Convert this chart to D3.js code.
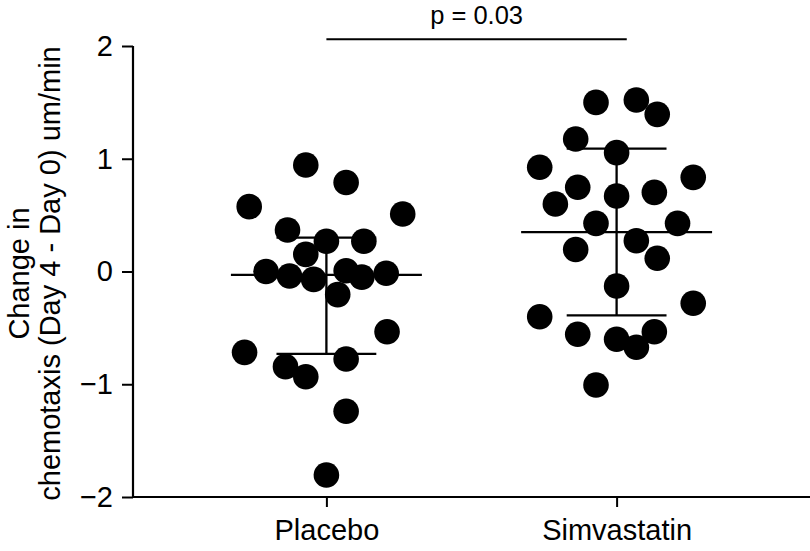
<!DOCTYPE html>
<html>
<head>
<meta charset="utf-8">
<script src="https://cdn.jsdelivr.net/npm/d3@7"></script>
<style>
  html, body { margin: 0; padding: 0; background: #fff; }
  svg { display: block; font-family: "Liberation Sans", Arial, Helvetica, sans-serif; }
</style>
</head>
<body>
<svg id="chart" width="810" height="551"></svg>
<script>
// ---- data ----
const categories = ["Placebo", "Simvastatin"];
const placeboValues = [0.945, 0.79, 0.575, 0.51, 0.368, 0.268, 0.268, 0.152, 0.0, -0.04, -0.07, 0.007,
  -0.05, -0.016, -0.205, -0.717, -0.844, -0.933, -0.776, -0.534, -1.24, -1.805];
const placeboJitter = [-0.071, 0.068, -0.266, 0.263, -0.134, 0, 0.129, -0.071, -0.208, -0.127, -0.044, 0.068,
  0.122, 0.206, 0.039, -0.282, -0.141, -0.071, 0.068, 0.209, 0.068, 0];
const simvastatinValues = [1.50, 1.521, 1.394, 1.175, 1.054, 0.924, 0.835, 0.747, 0.670, 0.702, 0.599, 0.427,
  0.427, 0.273, 0.195, 0.117, -0.129, -0.282, -0.401, -0.557, -0.601, -0.672, -0.534, -1.007];
const simvastatinJitter = [-0.071, 0.068, 0.140, -0.141, 0, -0.265, 0.264, -0.134, 0, 0.130, -0.211, -0.071,
  0.210, 0.068, -0.141, 0.140, 0, 0.264, -0.265, -0.134, 0, 0.068, 0.130, -0.071];
const centerValues = [-0.03, 0.35];
const lowerValues = [-0.73, -0.39];
const upperValues = [0.30, 1.09];
const yTicks = [-2, -1, 0, 1, 2];
const pLabel = "p = 0.03";
const yTitleLines = ["Change in", "chemotaxis (Day 4 - Day 0) um/min"];

// ---- layout ----
const svg = d3.select("#chart");
const mLeft = 133, mRight = 810, mTop = 46, mBottom = 497;
const fontSize = 29;

const x = d3.scalePoint().domain(categories).range([mLeft, mRight]).padding(0.6664);
const step = x.step();
const y = d3.scaleLinear().domain([-2, 2]).range([mBottom, mTop]);

// axes
const yAxis = d3.axisLeft(y).tickValues(yTicks).tickSize(11).tickPadding(9).tickFormat(d3.format("d"));
const gy = svg.append("g").attr("transform", `translate(${mLeft},0)`).call(yAxis);
gy.select(".domain").attr("stroke-width", 2.2).attr("d", `M0,${mTop}V${mBottom}`);
gy.selectAll(".tick line").attr("stroke-width", 2);
gy.selectAll(".tick text").attr("font-size", fontSize).attr("fill", "#000")
  .attr("font-family", "Liberation Sans, Arial, sans-serif");

const xAxis = d3.axisBottom(x).tickSize(10).tickPadding(12);
const gx = svg.append("g").attr("transform", `translate(0,${mBottom})`).call(xAxis);
gx.select(".domain").attr("stroke-width", 2.2).attr("d", `M${mLeft},0H${mRight}`);
gx.selectAll(".tick line").attr("stroke-width", 2);
gx.selectAll(".tick text").attr("font-size", fontSize).attr("fill", "#000")
  .attr("font-family", "Liberation Sans, Arial, sans-serif");

// y title
const yTitle = svg.append("text")
  .attr("transform", `translate(0,${(mTop + mBottom) / 2 + 2}) rotate(-90)`)
  .attr("text-anchor", "middle")
  .attr("font-size", fontSize)
  .attr("fill", "#000");
yTitle.append("tspan").attr("x", 0).attr("y", 29).text(yTitleLines[0]);
yTitle.append("tspan").attr("x", 0).attr("y", 60).text(yTitleLines[1]);

// summary lines (mean / spread)
const meanHalf = 0.329 * step, capHalf = 0.172 * step;
const summary = categories.map((c, i) => ({ c, mid: centerValues[i], lo: lowerValues[i], hi: upperValues[i] }));
const gs = svg.append("g").attr("stroke", "#000").attr("stroke-width", 2.3);
summary.forEach(s => {
  const cx = x(s.c);
  gs.append("line").attr("x1", cx).attr("x2", cx).attr("y1", y(s.hi)).attr("y2", y(s.lo));
  gs.append("line").attr("x1", cx - meanHalf).attr("x2", cx + meanHalf).attr("y1", y(s.mid)).attr("y2", y(s.mid));
  gs.append("line").attr("x1", cx - capHalf).attr("x2", cx + capHalf).attr("y1", y(s.hi)).attr("y2", y(s.hi));
  gs.append("line").attr("x1", cx - capHalf).attr("x2", cx + capHalf).attr("y1", y(s.lo)).attr("y2", y(s.lo));
});

// points
const points = [
  ...placeboValues.map((v, i) => ({ c: categories[0], v, j: placeboJitter[i] })),
  ...simvastatinValues.map((v, i) => ({ c: categories[1], v, j: simvastatinJitter[i] }))
];
svg.append("g").selectAll("circle").data(points).join("circle")
  .attr("cx", d => x(d.c) + d.j * step)
  .attr("cy", d => y(d.v))
  .attr("r", 12.8)
  .attr("fill", "#000");

// significance bar
const sigY = 39.3;
svg.append("line")
  .attr("x1", x(categories[0])).attr("x2", x(categories[1]) + 0.035 * step)
  .attr("y1", sigY).attr("y2", sigY)
  .attr("stroke", "#000").attr("stroke-width", 2);
svg.append("text")
  .attr("x", (x(categories[0]) + x(categories[1]) + 0.035 * step) / 2)
  .attr("y", 24)
  .attr("text-anchor", "middle")
  .attr("font-size", 25.5)
  .attr("fill", "#000")
  .text(pLabel);
</script>
</body>
</html>
